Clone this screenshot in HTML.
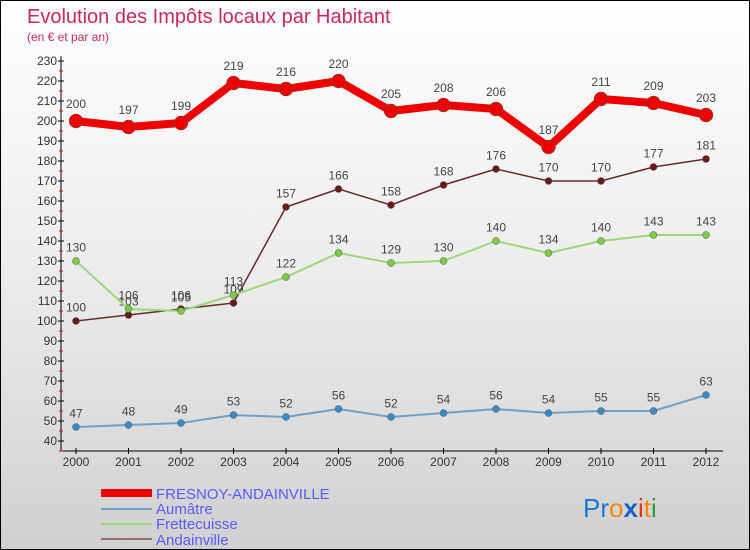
<!DOCTYPE html>
<html><head><meta charset="utf-8"><style>
body{margin:0}
#c{width:750px;height:550px;position:relative;background:linear-gradient(#ffffff 0%,#ececec 50%,#d0d0d0 100%);box-sizing:border-box;border:1px solid #000;font-family:"Liberation Sans",sans-serif;overflow:hidden}
</style></head><body>
<div id="c">
<svg id="s" width="750" height="550" style="position:absolute;left:0;top:0">
<text x="26" y="22" font-size="20" fill="#c8285a">Evolution des Impôts locaux par Habitant</text>
<text x="26" y="40" font-size="12" fill="#c8285a">(en € et par an)</text>
<g id="axes"></g><g id="series"></g>
<g>
<rect x="100" y="488" width="51" height="8" fill="#e00"/>
<text x="155" y="498" font-size="15" fill="#5a5aff">FRESNOY-ANDAINVILLE</text>
<rect x="100" y="507" width="51" height="2" fill="#6fa0c8"/>
<text x="155" y="513" font-size="15" fill="#5a5aff">Aumâtre</text>
<rect x="100" y="522" width="51" height="2" fill="#9ad77a"/>
<text x="155" y="528" font-size="15" fill="#5a5aff">Frettecuisse</text>
<rect x="100" y="537" width="51" height="2" fill="#9a6a6a"/>
<text x="155" y="544" font-size="15" fill="#5a5aff">Andainville</text>
</g>
<g font-size="26" font-family="Liberation Sans,sans-serif">
<text x="582" y="516"><tspan fill="#1a78d0">Pr</tspan><tspan fill="#f08a00">o</tspan><tspan fill="#1a60c8" font-weight="bold">x</tspan><tspan fill="#e83010">i</tspan><tspan fill="#f08a00">t</tspan><tspan fill="#2a9a3a">i</tspan></text>
</g>
</svg>
</div>
<script>
const years=[2000,2001,2002,2003,2004,2005,2006,2007,2008,2009,2010,2011,2012];
const fresnoy=[200,197,199,219,216,220,205,208,206,187,211,209,203];
const aumatre=[47,48,49,53,52,56,52,54,56,54,55,55,63];
const frettecuisse=[130,106,105,113,122,134,129,130,140,134,140,143,143];
const andainville=[100,103,106,109,157,166,158,168,176,170,170,177,181];
const yTicks=[40,50,60,70,80,90,100,110,120,130,140,150,160,170,180,190,200,210,220,230];
const NS="http://www.w3.org/2000/svg";
const xS=i=>75+i*52.5;
const yS=v=>440-(v-40)*2;
function mk(t,a,p){const e=document.createElementNS(NS,t);for(const k in a)e.setAttribute(k,a[k]);p.appendChild(e);return e;}
const ax=document.getElementById('axes');
let e=mk('line',{x1:60,y1:55,x2:60,y2:450,stroke:'#000','stroke-width':1},ax);


e=mk('line',{x1:60,y1:450,x2:722,y2:450,stroke:'#000','stroke-width':1},ax);


yTicks.forEach(v=>{
 const y=yS(v);
 mk('line',{x1:57,y1:y,x2:63,y2:y,stroke:'#000'},ax);
 mk('line',{x1:58,y1:y+10,x2:62,y2:y+10,stroke:'#e00'},ax);
 const t=mk('text',{x:56,y:y+4,'font-size':12,fill:'#333','text-anchor':'end'},ax);
 t.textContent=v;
 
 
});
years.forEach((yr,i)=>{
 const x=xS(i);
 mk('line',{x1:x,y1:447,x2:x,y2:453,stroke:'#000'},ax);
 const t=mk('text',{x:x,y:465,'font-size':12,fill:'#333','text-anchor':'middle'},ax);
 t.textContent=yr;
 
 
});
const sg=document.getElementById('series');
function series(name,vals,color,w,r,dot){
 const g=mk('g',{},sg);
 
 
 mk('polyline',{points:vals.map((v,i)=>xS(i)+','+yS(v)).join(' '),fill:'none',stroke:color,'stroke-width':w,'stroke-linejoin':'round'},g);
 vals.forEach((v,i)=>{
  const c=mk('circle',{cx:xS(i),cy:yS(v),r:r,fill:dot,stroke:'#555','stroke-width':0.5},g);
  
  
  const t=mk('text',{x:xS(i),y:yS(v)-(r+6),'font-size':12,fill:'#444','text-anchor':'middle'},g);
  t.textContent=v;
  
  
 });
}
series('aumatre',aumatre,'#6fa0c8',2,3.5,'#3a8ac8');
series('andainville',andainville,'#6a2a2a',1.5,3.5,'#6a1a1a');
series('frettecuisse',frettecuisse,'#9ad77a',2,3.5,'#7acc40');
series('fresnoy',fresnoy,'#e00',8,7,'#e00');
</script>
</body></html>
